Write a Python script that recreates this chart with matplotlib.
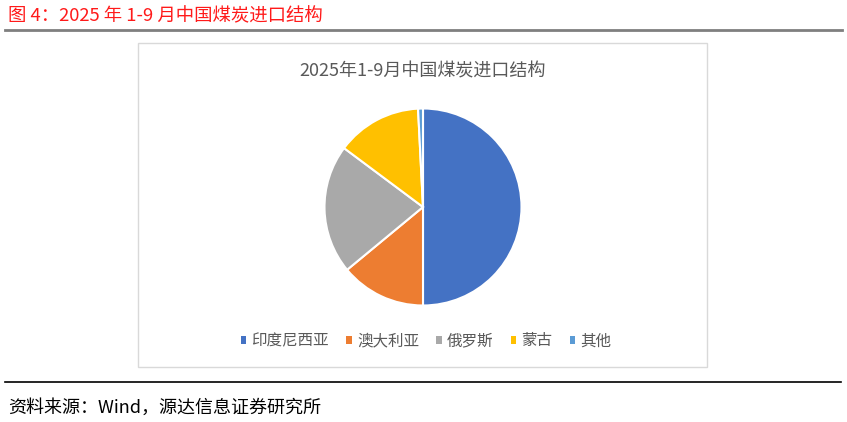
import matplotlib
matplotlib.use("Agg")
import matplotlib.pyplot as plt
from matplotlib.patches import Rectangle
from matplotlib.lines import Line2D

plt.rcParams['font.family'] = ['Noto Sans CJK SC', 'DejaVu Sans']

categories = ['印度尼西亚', '澳大利亚', '俄罗斯', '蒙古', '其他']
shares = [50.0, 14.0, 21.2, 14.0, 0.8]
colors = ['#4472C4', '#ED7D31', '#A9A9A9', '#FFC000', '#5B9BD5']

fig_title = '图 4：2025 年 1-9 月中国煤炭进口结构'
chart_title = '2025年1-9月中国煤炭进口结构'
source = '资料来源：Wind，源达信息证券研究所'

W, H = 847, 422
fig = plt.figure(figsize=(W / 100, H / 100), dpi=100)

def fx(px):
    return px / W

def fy(py):
    return 1 - py / H

# figure title and rules
fig.text(fx(8), fy(16), fig_title, color='#FF1A1A', fontsize=13.25, va='center', ha='left')
fig.add_artist(Line2D([fx(5), fx(842)], [fy(30), fy(30)], color='#7F7F7F', lw=2))
fig.add_artist(Line2D([fx(5), fx(841)], [fy(382), fy(382)], color='#000000', lw=1.2))
fig.text(fx(8), fy(408), source, color='#000000', fontsize=13.0, va='center', ha='left')

# chart box
fig.add_artist(Rectangle((fx(138), fy(367)), fx(707) - fx(138), fy(43) - fy(367),
                         transform=fig.transFigure, fill=False, edgecolor='#D9D9D9', lw=1))
fig.text(fx(423), fy(71), chart_title, color='#595959', fontsize=13.0, va='center', ha='center')

# pie
cx, cy, r = 423, 207, 98.5
ax = fig.add_axes([fx(cx - r), fy(cy + r), 2 * r / W, 2 * r / H])
wedges, _ = ax.pie(shares, colors=colors, startangle=90, counterclock=False,
                   wedgeprops=dict(edgecolor='white', linewidth=1.5))
ax.set_xlim(-1, 1)
ax.set_ylim(-1, 1)
ax.set_aspect('equal')
ax.axis('off')

leg = fig.legend(wedges, categories, loc='center', bbox_to_anchor=(fx(426), fy(341)),
                 ncol=5, frameon=False, fontsize=11.2, labelcolor='#595959',
                 handlelength=0.35, handleheight=0.35, handletextpad=0.35,
                 columnspacing=1.1)
for h in leg.legend_handles:
    h.set_edgecolor('none')

fig.savefig('out.png', dpi=100)
